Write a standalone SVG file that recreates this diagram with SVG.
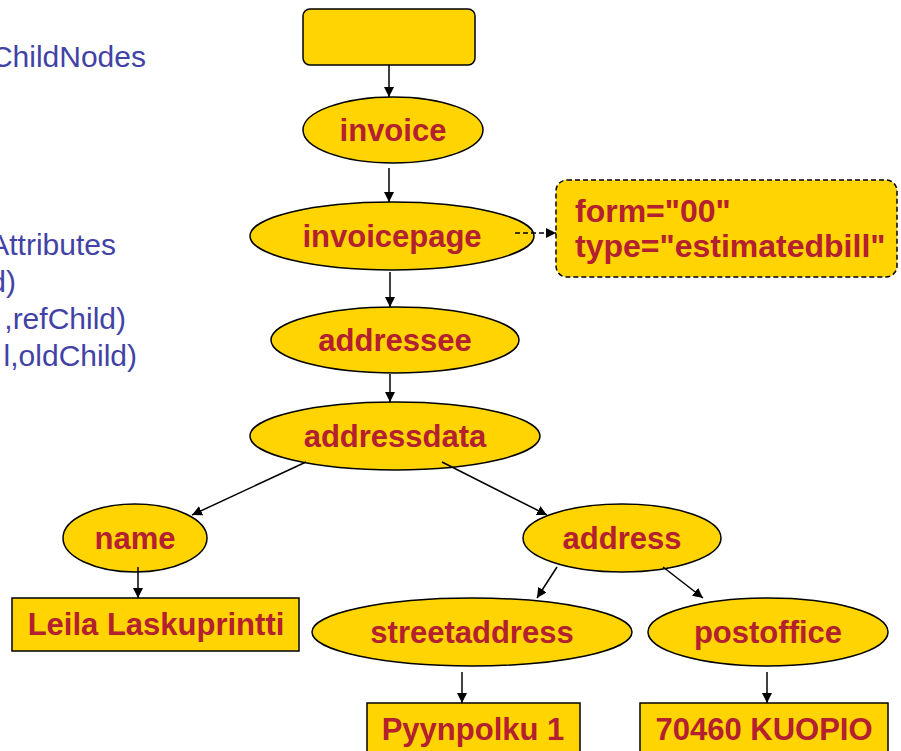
<svg xmlns="http://www.w3.org/2000/svg" width="901" height="751" viewBox="0 0 901 751">
  <defs>
    <marker id="arrow" viewBox="0 0 10 10" refX="10" refY="5" markerWidth="10" markerHeight="10" markerUnits="userSpaceOnUse" orient="auto">
      <path d="M0,0 L10,5 L0,10 Z" fill="#000"/>
    </marker>
    <style>
      .shape { fill: #FFD400; stroke: #000; stroke-width: 1.5; }
      .dashed { stroke-dasharray: 5 3; }
      .label { font-family: "Liberation Sans", Arial, sans-serif; font-weight: bold; font-size: 31px; fill: #B3202F; text-anchor: middle; }
      .attr { font-family: "Liberation Sans", Arial, sans-serif; font-weight: bold; font-size: 32px; fill: #B3202F; }
      .side { font-family: "Liberation Sans", Arial, sans-serif; font-size: 30px; fill: #4242A6; text-anchor: end; }
      .edge { stroke: #000; stroke-width: 1.5; fill: none; marker-end: url(#arrow); }
    </style>
  </defs>
  <rect width="901" height="751" fill="#fff"/>

  <!-- method list on the left -->
  <g id="side-text">
    <text class="side" x="146" y="67">ChildNodes</text>
    <text class="side" x="116" y="255">Attributes</text>
    <text class="side" x="16" y="292">d)</text>
    <text class="side" x="126" y="329">,refChild)</text>
    <text class="side" x="137" y="366">l,oldChild)</text>
  </g>

  <g id="document">
    <rect class="shape" x="303" y="9" width="172" height="56" rx="7"/>
  </g>
  <g id="invoice">
    <ellipse class="shape" cx="393" cy="130" rx="90" ry="33"/>
    <text class="label" x="393" y="141">invoice</text>
  </g>
  <g id="invoicepage">
    <ellipse class="shape" cx="392" cy="236" rx="142" ry="34"/>
    <text class="label" x="392" y="247">invoicepage</text>
  </g>
  <g id="attributes">
    <rect class="shape dashed" x="556" y="180" width="341" height="97" rx="11"/>
    <text class="attr" x="575" y="222">form="00"</text>
    <text class="attr" x="575" y="257">type="estimatedbill"</text>
  </g>
  <g id="addressee">
    <ellipse class="shape" cx="395" cy="340" rx="124" ry="33"/>
    <text class="label" x="395" y="351">addressee</text>
  </g>
  <g id="addressdata">
    <ellipse class="shape" cx="395" cy="436" rx="145" ry="34"/>
    <text class="label" x="395" y="447">addressdata</text>
  </g>
  <g id="name">
    <ellipse class="shape" cx="135" cy="538" rx="72" ry="34"/>
    <text class="label" x="135" y="549">name</text>
  </g>
  <g id="address">
    <ellipse class="shape" cx="622" cy="538" rx="99" ry="34"/>
    <text class="label" x="622" y="549">address</text>
  </g>
  <g id="name-value">
    <rect class="shape" x="12" y="598" width="287" height="53"/>
    <text class="label" x="156" y="635">Leila Laskuprintti</text>
  </g>
  <g id="streetaddress">
    <ellipse class="shape" cx="472" cy="632" rx="160" ry="34"/>
    <text class="label" x="472" y="643">streetaddress</text>
  </g>
  <g id="postoffice">
    <ellipse class="shape" cx="768" cy="632" rx="120" ry="34"/>
    <text class="label" x="768" y="643">postoffice</text>
  </g>
  <g id="street-value">
    <rect class="shape" x="367" y="703" width="213" height="60"/>
    <text class="label" x="473" y="740">Pyynpolku 1</text>
  </g>
  <g id="postoffice-value">
    <rect class="shape" x="640" y="703" width="248" height="60"/>
    <text class="label" x="764" y="740">70460 KUOPIO</text>
  </g>

  <!-- connectors, drawn over the node outlines -->
  <g id="connectors">
    <line class="edge" x1="389" y1="65" x2="389" y2="97"/>
    <line class="edge" x1="389" y1="168" x2="389" y2="202"/>
    <line class="edge dashed" x1="515" y1="233" x2="556" y2="233"/>
    <line class="edge" x1="390" y1="272" x2="390" y2="307"/>
    <line class="edge" x1="390" y1="374" x2="390" y2="402"/>
    <line class="edge" x1="306" y1="462" x2="192" y2="515"/>
    <line class="edge" x1="442" y1="462" x2="547" y2="515"/>
    <line class="edge" x1="138" y1="567" x2="138" y2="598"/>
    <line class="edge" x1="557" y1="567" x2="537" y2="598"/>
    <line class="edge" x1="663" y1="567" x2="703" y2="598"/>
    <line class="edge" x1="462" y1="672" x2="462" y2="703"/>
    <line class="edge" x1="767" y1="672" x2="767" y2="703"/>
  </g>
</svg>
